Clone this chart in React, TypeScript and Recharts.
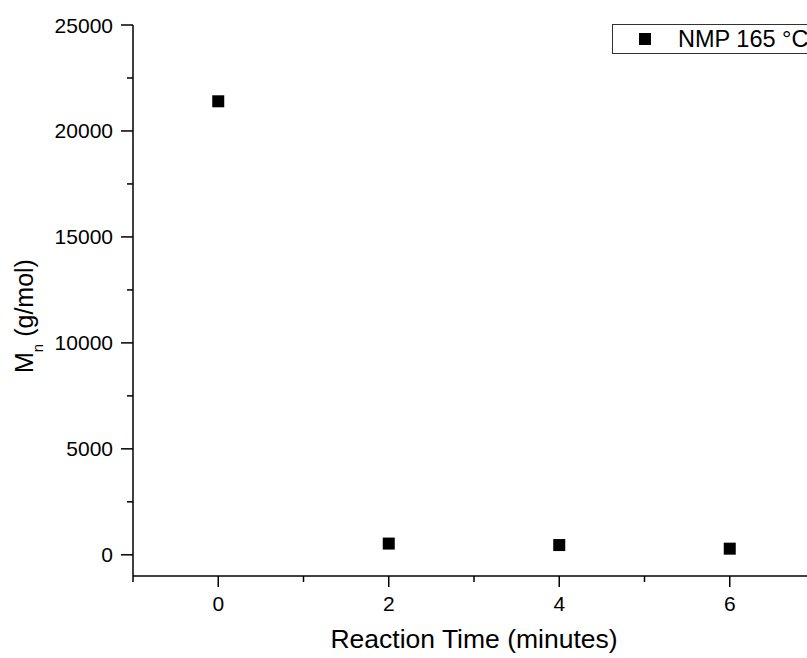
import React from 'react';
import { ScatterChart, Scatter, XAxis, YAxis, Legend } from 'recharts';

const TIMES = [0, 2, 4, 6];
const MN = [21400, 530, 460, 290];
const SERIES_NAME = 'NMP 165 °C';

const X_TICKS = [-1, 0, 1, 2, 3, 4, 5, 6, 7];
const X_MAJOR = [0, 2, 4, 6];
const Y_TICKS = [0, 2500, 5000, 7500, 10000, 12500, 15000, 17500, 20000, 22500, 25000];
const Y_MAJOR = [0, 5000, 10000, 15000, 20000, 25000];

const DATA = TIMES.map((t, i) => ({ x: t, y: MN[i] }));

const FONT = '"Liberation Sans", Arial, sans-serif';

const XTick = (props: any) => {
  const { x, y, payload } = props;
  const major = X_MAJOR.includes(payload.value);
  return (
    <g>
      <line x1={x} y1={y} x2={x} y2={y + (major ? 11 : 6)} stroke="#000" strokeWidth={1.5} />
      {major && (
        <text x={x} y={y + 35} textAnchor="middle" fontSize={21} fontFamily={FONT} fill="#000">
          {payload.value}
        </text>
      )}
    </g>
  );
};

const YTick = (props: any) => {
  const { x, y, payload } = props;
  const major = Y_MAJOR.includes(payload.value);
  return (
    <g>
      <line x1={x - (major ? 12 : 6)} y1={y} x2={x} y2={y} stroke="#000" strokeWidth={1.5} />
      {major && (
        <text x={x - 20} y={y + 7.5} textAnchor="end" fontSize={21} fontFamily={FONT} fill="#000">
          {payload.value}
        </text>
      )}
    </g>
  );
};

const XLabel = (props: any) => {
  const { viewBox } = props;
  return (
    <text x={viewBox.x + viewBox.width / 2} y={viewBox.y + 72} textAnchor="middle" fontSize={26.5} fontFamily={FONT} fill="#000">
      Reaction Time (minutes)
    </text>
  );
};

const YLabel = () => (
  <text x={33} y={316} transform="rotate(-90, 33, 316)" textAnchor="middle" fontSize={25} fontFamily={FONT} fill="#000">
    <tspan>M</tspan>
    <tspan dy={10} fontSize={15}>n</tspan>
    <tspan dy={-10}> (g/mol)</tspan>
  </text>
);

const Square = (props: any) => (
  <rect x={props.cx - 6} y={props.cy - 6} width={12} height={12} fill="#000" />
);

const LegendBox = (props: any) => {
  const items = props.payload || [];
  return (
    <div>
      {items.map((it: any) => (
        <div
          key={it.value}
          style={{
            display: 'flex',
            alignItems: 'center',
            height: 30,
            boxSizing: 'border-box',
            border: '1px solid #333',
            background: '#fff',
            fontFamily: FONT,
            fontSize: 23.5,
            color: '#000',
          }}
        >
          <span style={{ width: 12, height: 12, background: '#000', marginLeft: 26, marginRight: 27, flex: 'none' }} />
          <span style={{ whiteSpace: 'nowrap' }}>{it.value}</span>
        </div>
      ))}
    </div>
  );
};

export default function App() {
  return (
    <div style={{ position: 'absolute', left: 0, top: 0, width: 807, height: 658, overflow: 'hidden', background: '#fff' }}>
      <ScatterChart width={840} height={658} margin={{ top: 25, right: 25, left: 0, bottom: 0 }}>
        <XAxis
          type="number"
          dataKey="x"
          domain={[-1, 7]}
          ticks={X_TICKS}
          interval={0}
          allowDataOverflow
          height={82}
          tickSize={0}
          tickMargin={0}
          tickLine={false}
          axisLine={{ stroke: '#000', strokeWidth: 1.5 }}
          tick={<XTick />}
          label={<XLabel />}
        />
        <YAxis
          type="number"
          dataKey="y"
          domain={[-1000, 25000]}
          ticks={Y_TICKS}
          interval={0}
          allowDataOverflow
          width={133}
          tickSize={0}
          tickMargin={0}
          tickLine={false}
          axisLine={{ stroke: '#000', strokeWidth: 1.5 }}
          tick={<YTick />}
          label={<YLabel />}
        />
        <Legend
          layout="horizontal"
          verticalAlign="middle"
          align="center"
          content={<LegendBox />}
          wrapperStyle={{ left: 612, top: 24, width: 230 }}
        />
        <Scatter name={SERIES_NAME} data={DATA} fill="#000" shape={<Square />} isAnimationActive={false} />
      </ScatterChart>
    </div>
  );
}
